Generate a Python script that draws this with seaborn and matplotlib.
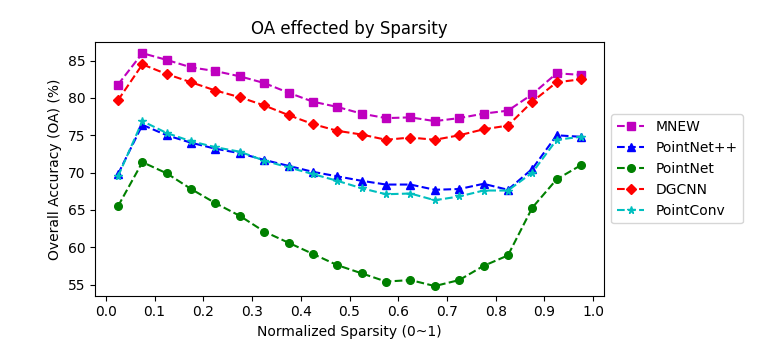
import numpy as np
import matplotlib
matplotlib.use('Agg')
import matplotlib.pyplot as plt
import seaborn as sns

# Sparsity bins (centres)
sparsity = [0.025, 0.075, 0.125, 0.175, 0.225, 0.275, 0.325, 0.375, 0.425, 0.475,
            0.525, 0.575, 0.625, 0.675, 0.725, 0.775, 0.825, 0.875, 0.925, 0.975]

mnew = [81.8, 86.0, 85.1, 84.1, 83.6, 82.9, 82.0, 80.7, 79.5, 78.8,
        77.9, 77.3, 77.4, 76.9, 77.3, 77.9, 78.3, 80.5, 83.3, 83.1]
pointnet_pp = [69.8, 76.4, 75.0, 74.0, 73.2, 72.6, 71.7, 70.9, 70.1, 69.5,
               68.9, 68.4, 68.4, 67.7, 67.8, 68.5, 67.7, 70.5, 75.0, 74.8]
pointnet = [65.5, 71.4, 69.9, 67.8, 65.9, 64.2, 62.1, 60.6, 59.1, 57.6,
            56.5, 55.4, 55.6, 54.8, 55.6, 57.5, 58.9, 65.3, 69.1, 71.0]
dgcnn = [79.7, 84.5, 83.2, 82.1, 81.0, 80.1, 79.0, 77.7, 76.5, 75.6,
         75.1, 74.4, 74.7, 74.4, 75.0, 75.8, 76.3, 79.5, 82.1, 82.5]
pointconv = [69.5, 76.9, 75.3, 74.2, 73.4, 72.8, 71.6, 70.7, 69.8, 68.9,
             67.9, 67.1, 67.2, 66.3, 66.8, 67.6, 67.6, 70.0, 74.4, 74.8]

series = [('MNEW', mnew, 'm', 's'),
          ('PointNet++', pointnet_pp, 'b', '^'),
          ('PointNet', pointnet, 'g', 'o'),
          ('DGCNN', dgcnn, 'r', 'D'),
          ('PointConv', pointconv, 'c', '*')]

fig = plt.figure(figsize=(7.59, 3.5), dpi=100)
ax = fig.add_axes([0.125, 0.155, 0.671, 0.725])

for name, vals, col, mk in series:
    sns.lineplot(x=sparsity, y=vals, ax=ax, color=col, marker=mk, linestyle='--',
                 markersize=5.5, markeredgecolor=col, markeredgewidth=1, label=name)

ax.set_xticks(np.arange(0, 1.01, 0.1))
ax.set_yticks([55, 60, 65, 70, 75, 80, 85])
ax.set_xlim(-0.0225, 1.0225)
ax.set_ylim(53.5, 87.5)
ax.set_title('OA effected by Sparsity')
ax.set_xlabel('Normalized Sparsity (0~1)')
ax.set_ylabel('Overall Accuracy (OA) (%)')
ax.legend(loc='center left', bbox_to_anchor=(1.0, 0.5))

fig.savefig('out.png', dpi=100)
